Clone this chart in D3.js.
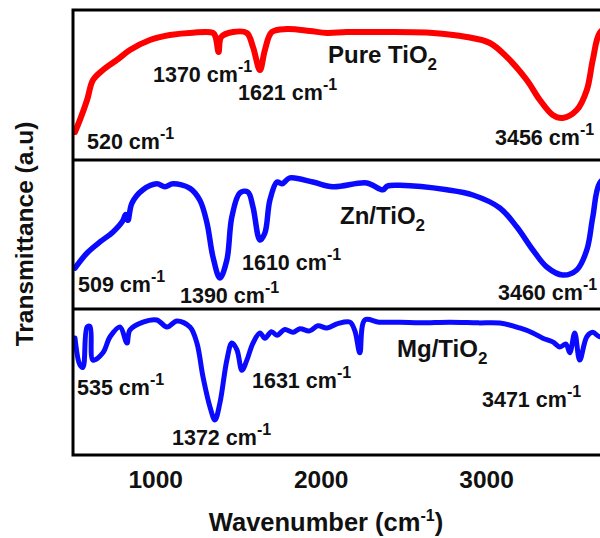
<!DOCTYPE html>
<html>
<head>
<meta charset="utf-8">
<script src="https://cdn.jsdelivr.net/npm/d3@7.9.0/dist/d3.min.js"></script>
<style>
  body { margin: 0; background: #fff; }
  svg text { font-family: "Liberation Sans", Arial, sans-serif; font-weight: bold; fill: #111; }
</style>
</head>
<body>
<svg id="chart" width="600" height="538"></svg>
<script>
// wavenumber (cm-1) and transmittance (a.u., 0-100 within each panel)
const pureWn = [512, 542, 585, 621, 681, 766, 844, 965, 1086, 1225, 1346, 1362, 1380, 1396, 1467, 1551, 1588, 1630, 1660, 1702, 1793, 1932, 2035, 2155, 2373, 2675, 2880, 3020, 3122, 3243, 3322, 3400, 3460, 3545, 3606, 3642, 3684, 3750, 4000];
const pureT  = [18.7, 26.7, 40, 53.3, 60, 66.7, 73.3, 80, 83.3, 84.9, 84.7, 82, 72, 82, 85.3, 84.7, 75.3, 60, 73.3, 85.3, 87.3, 86, 84.7, 85.3, 85.3, 84.7, 82, 78, 68.7, 53.3, 40, 30, 28, 33.3, 46.7, 66.7, 84.7, 90, 90];

const znWn = [512, 585, 663, 742, 800, 818, 832, 856, 923, 1007, 1056, 1104, 1207, 1267, 1310, 1346, 1388, 1430, 1460, 1509, 1557, 1588, 1630, 1660, 1690, 1733, 1763, 1811, 1950, 2071, 2276, 2373, 2400, 2476, 2760, 2917, 3080, 3183, 3280, 3364, 3460, 3545, 3606, 3642, 3684, 3750, 4000];
const znT  = [27.5, 37.6, 45, 51.7, 59, 63.5, 59.5, 71, 80, 84, 82, 84, 81, 73, 57.7, 35, 20.8, 32.9, 61.7, 77.9, 78.5, 68.5, 46.3, 51, 73, 85.2, 84, 88, 85.2, 82, 84.6, 80, 82.5, 83, 80, 76.5, 67.8, 55, 39.6, 28.2, 22.8, 26.2, 39.6, 61.7, 84.6, 90, 90];

const mgWn = [512, 542, 560, 585, 603, 621, 681, 724, 784, 826, 844, 923, 1007, 1068, 1128, 1207, 1249, 1286, 1328, 1358, 1388, 1430, 1460, 1491, 1521, 1551, 1588, 1630, 1660, 1700, 1733, 1780, 1830, 1872, 1930, 1980, 2035, 2100, 2174, 2204, 2234, 2264, 2350, 2476, 2600, 2778, 2950, 3080, 3200, 3280, 3340, 3400, 3443, 3480, 3503, 3533, 3563, 3606, 3642, 3684, 3800, 4000];
const mgT  = [80.1, 61.6, 60, 87.7, 88, 65, 70, 81, 87.7, 76.7, 85.6, 91, 92.5, 87.7, 91.8, 87.7, 76.7, 53.4, 32.9, 24, 35.6, 65, 76.7, 72, 58, 65, 76.7, 83.6, 80, 84.5, 82, 86, 84, 86.5, 85, 88.5, 87, 90, 91, 85, 70, 92.5, 91, 91, 90.5, 91, 90.5, 90.4, 87, 83.6, 80, 77.5, 74, 76, 70, 83.6, 65, 81, 84, 81, 83, 83];

const sampleNames = ['Pure TiO', 'Zn/TiO', 'Mg/TiO'];
const peakLabels = [
  ['520', '1370', '1621', '3456'],
  ['509', '1390', '1610', '3460'],
  ['535', '1372', '1631', '3471']
];
const xTicks = [1000, 2000, 3000];

// layout
const left = 73, right = 652;
const panelEdges = [10, 160, 309, 455];
const colors = ['#ff0000', '#0a0aff', '#0a0aff'];
const widths = [6, 5.5, 5];
const series = [
  { wn: pureWn, t: pureT },
  { wn: znWn, t: znT },
  { wn: mgWn, t: mgT }
];
// label anchors [x, baseline y] for each panel's peak labels and sample name
const peakPos = [
  [[87, 149], [153, 82], [238, 100], [495, 145]],
  [[78, 292], [180, 303], [242, 270], [498, 300]],
  [[77, 395], [172, 445], [252, 388], [482, 407]]
];
const namePos = [[328, 63], [340, 224], [397, 357]];

const svg = d3.select('#chart');
const x = d3.scaleLinear().domain([500, 4000]).range([left, right]);

series.forEach((s, i) => {
  const y = d3.scaleLinear().domain([0, 100]).range([panelEdges[i + 1], panelEdges[i]]);
  const line = d3.line()
    .x((d, k) => x(s.wn[k]))
    .y((d) => y(d))
    .curve(d3.curveCatmullRom.alpha(0.5));

  svg.append('clipPath').attr('id', 'clip' + i)
    .append('rect')
    .attr('x', left).attr('y', panelEdges[i])
    .attr('width', right - left).attr('height', panelEdges[i + 1] - panelEdges[i]);

  svg.append('path')
    .attr('d', line(s.t))
    .attr('fill', 'none')
    .attr('stroke', colors[i])
    .attr('stroke-width', widths[i])
    .attr('stroke-linejoin', 'round')
    .attr('stroke-linecap', 'round')
    .attr('clip-path', `url(#clip${i})`);

  // peak labels
  peakLabels[i].forEach((lab, j) => {
    const t = svg.append('text')
      .attr('x', peakPos[i][j][0])
      .attr('y', peakPos[i][j][1])
      .attr('font-size', 21.5);
    t.append('tspan').text(lab + ' cm');
    t.append('tspan').attr('dy', -10).attr('font-size', 16).text('-1');
  });

  // sample name with subscript 2
  const n = svg.append('text')
    .attr('x', namePos[i][0])
    .attr('y', namePos[i][1])
    .attr('font-size', 24);
  n.append('tspan').text(sampleNames[i]);
  n.append('tspan').attr('dy', 7).attr('font-size', 17).text('2');
});

// frame and panel dividers
svg.append('rect')
  .attr('x', left).attr('y', panelEdges[0])
  .attr('width', right - left).attr('height', panelEdges[3] - panelEdges[0])
  .attr('fill', 'none').attr('stroke', '#000').attr('stroke-width', 3);
panelEdges.slice(1, 3).forEach((py) => {
  svg.append('line')
    .attr('x1', left).attr('x2', right)
    .attr('y1', py).attr('y2', py)
    .attr('stroke', '#000').attr('stroke-width', 3);
});

// x axis tick labels
svg.selectAll('.xtick')
  .data(xTicks)
  .join('text')
  .attr('class', 'xtick')
  .attr('x', (d) => x(d))
  .attr('y', 488)
  .attr('text-anchor', 'middle')
  .attr('font-size', 24.5)
  .text((d) => d);

// axis titles
const xt = svg.append('text')
  .attr('x', 326).attr('y', 531)
  .attr('text-anchor', 'middle')
  .attr('font-size', 25.5);
xt.append('tspan').text('Wavenumber (cm');
xt.append('tspan').attr('dy', -10).attr('font-size', 16).text('-1');
xt.append('tspan').attr('dy', 10).text(')');

svg.append('text')
  .attr('transform', 'translate(33,234) rotate(-90)')
  .attr('text-anchor', 'middle')
  .attr('font-size', 24.5)
  .text('Transmittance (a.u)');
</script>
</body>
</html>
